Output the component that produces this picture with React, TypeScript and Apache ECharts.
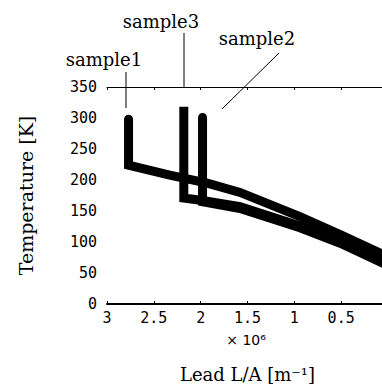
import React, { useEffect, useRef } from "react";
import * as echarts from "echarts";

// Lead L/A (x 10^6 m^-1) and temperature (K) for each sample
const sample1X = [2.77, 2.77, 2.33, 1.93, 1.58, 0.94, 0.51, 0];
const sample1Y = [298, 224, 208, 195, 180, 141, 112, 76];
const sample3X = [2.18, 2.18, 1.98, 1.58, 0.94, 0.51, 0];
const sample3Y = [318, 171, 167, 157, 126, 100, 64];
const sample2X = [1.98, 1.98, 1.58, 0.94, 0.51, 0];
const sample2Y = [301, 165, 154, 123, 98, 62];

const seriesNames = ["sample1", "sample3", "sample2"];
const xTicks = { min: 0, max: 3, interval: 0.5 };
const yTicks = { min: 0, max: 350, interval: 50 };

const zip = (xs: number[], ys: number[]) => xs.map((x, i) => [x, ys[i]]);

export default function App() {
  const ref = useRef<HTMLDivElement>(null);
  useEffect(() => {
    if (!ref.current) return;
    const chart = echarts.init(ref.current, null, { renderer: "svg" });
    const tickFont = {
      fontFamily: "DejaVu Sans Mono",
      fontSize: 15,
      color: "#000",
    };
    const serif = "DejaVu Serif";
    const lineOf = (name: string, data: number[][], cap: string) => ({
      type: "line",
      name,
      data,
      symbol: "none",
      silent: true,
      lineStyle: { color: "#000", width: 9, cap, join: "miter" },
    });
    const labels = [
      { t: seriesNames[0], x: 104, y: 59 },
      { t: seriesNames[1], x: 161, y: 21 },
      { t: seriesNames[2], x: 257, y: 38 },
    ];
    chart.setOption({
      animation: false,
      backgroundColor: "#fff",
      title: labels.map((s) => ({
        text: s.t,
        left: s.x,
        top: s.y,
        padding: 0,
        textAlign: "center",
        textVerticalAlign: "middle",
        textStyle: {
          fontFamily: serif,
          fontSize: 18,
          fontWeight: "normal",
          color: "#000",
        },
      })),
      grid: {
        left: 107,
        top: 87,
        width: 281,
        height: 217,
        outerBoundsMode: "none",
        containLabel: false,
      },
      xAxis: [
        {
          type: "value",
          inverse: true,
          min: xTicks.min,
          max: xTicks.max,
          interval: xTicks.interval,
          position: "bottom",
          axisLine: { show: true, lineStyle: { color: "#000", width: 2 } },
          axisTick: { show: true, inside: true, length: 3, lineStyle: { color: "#000" } },
          axisLabel: { ...tickFont, margin: 6 },
          splitLine: { show: false },
          name: "Lead L/A [m⁻¹]",
          nameLocation: "middle",
          nameGap: 61,
          nameTextStyle: { fontFamily: serif, fontSize: 18, color: "#000" },
        },
        {
          type: "value",
          inverse: true,
          min: xTicks.min,
          max: xTicks.max,
          interval: xTicks.interval,
          position: "top",
          axisLine: { show: true, lineStyle: { color: "#000", width: 1 } },
          axisTick: { show: true, inside: true, length: 3, lineStyle: { color: "#000" } },
          axisLabel: { show: false },
          splitLine: { show: false },
        },
      ],
      yAxis: [
        {
          type: "value",
          min: yTicks.min,
          max: yTicks.max,
          interval: yTicks.interval,
          axisLine: { show: true, lineStyle: { color: "#000", width: 2 } },
          axisTick: { show: true, inside: true, length: 3, lineStyle: { color: "#000" } },
          axisLabel: { ...tickFont, margin: 10 },
          splitLine: { show: false },
          name: "Temperature [K]",
          nameLocation: "middle",
          nameGap: 72,
          nameRotate: 90,
          nameTextStyle: { fontFamily: serif, fontSize: 19, color: "#000" },
        },
      ],
      series: [
        lineOf(seriesNames[0], zip(sample1X, sample1Y), "round"),
        lineOf(seriesNames[1], zip(sample3X, sample3Y), "butt"),
        lineOf(seriesNames[2], zip(sample2X, sample2Y), "round"),
      ],
      graphic: [
        {
          type: "text",
          x: 246,
          y: 340,
          style: {
            text: "× 10⁶",
            fontFamily: "DejaVu Sans",
            fontSize: 14,
            fill: "#000",
            align: "center",
            verticalAlign: "middle",
          },
        },
        {
          type: "line",
          shape: { x1: 126, y1: 72, x2: 126, y2: 108 },
          style: { stroke: "#000", lineWidth: 1 },
        },
        {
          type: "line",
          shape: { x1: 184, y1: 33, x2: 184, y2: 88 },
          style: { stroke: "#000", lineWidth: 1 },
        },
        {
          type: "line",
          shape: { x1: 279, y1: 53, x2: 222, y2: 109 },
          style: { stroke: "#000", lineWidth: 1 },
        },
      ],
    });
    return () => chart.dispose();
  }, []);
  return (
    <div
      ref={ref}
      style={{ position: "fixed", left: 0, top: 0, width: 382, height: 387 }}
    />
  );
}
